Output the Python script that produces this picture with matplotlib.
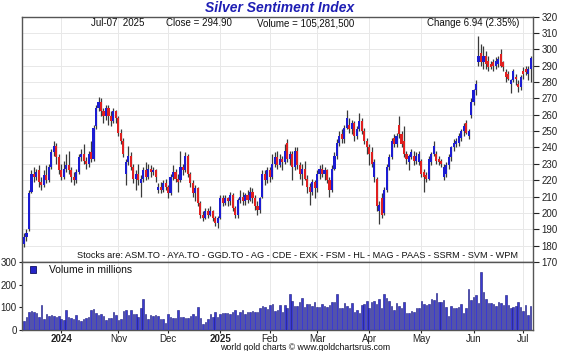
import matplotlib
matplotlib.use("Agg")
import matplotlib.pyplot as plt
from matplotlib.patches import Rectangle
import numpy as np

plt.rcParams['font.family'] = ['Liberation Sans', 'DejaVu Sans']

# Daily OHLC of the Silver Sentiment Index, Sep-10-2024 .. Jul-07-2025 (trading days)
opens = [181, 185, 190, 213, 224, 222, 226, 219, 217, 223,
         220, 228, 237, 241, 234, 226, 222, 227, 229, 226,
         222, 220, 225, 234, 236, 232, 230, 237, 233, 253,
         264, 268, 262, 259, 264, 259, 256, 262, 258, 249,
         244, 224, 231, 235, 228, 221, 224, 218, 221, 226,
         222, 227, 225, 226, 214, 216, 214, 218, 216, 212,
         222, 225, 221, 220, 228, 226, 235, 224, 218, 212,
         215, 206, 199, 197, 201, 199, 201, 197, 194, 197,
         209, 206, 209, 207, 211, 203, 199, 208, 210, 207,
         211, 208, 213, 209, 204, 202, 210, 224, 220, 226,
         222, 230, 234, 229, 233, 231, 243, 233, 236, 228,
         238, 229, 224, 227, 221, 216, 213, 219, 215, 224,
         227, 224, 226, 220, 214, 227, 235, 243, 248, 245,
         252, 254, 251, 255, 247, 251, 256, 250, 244, 240,
         237, 222, 221, 201, 209, 200, 214, 228, 234, 246,
         242, 254, 248, 244, 236, 231, 234, 235, 232, 231,
         232, 225, 223, 221, 231, 236, 236, 233, 232, 222,
         224, 229, 234, 240, 242, 243, 246, 250, 255, 247,
         260, 268, 275, 292, 298, 292, 296, 293, 291, 292,
         290, 291, 297, 292, 286, 285, 279, 281, 283, 279,
         277, 287, 288, 285, 288]
highs = [188, 190, 214, 226, 228, 227, 229, 222, 226, 229,
         230, 239, 244, 243, 236, 230, 232, 236, 238, 228,
         225, 227, 236, 239, 242, 234, 238, 244, 254, 266,
         271, 270, 264, 266, 266, 262, 264, 263, 259, 251,
         246, 233, 241, 237, 230, 226, 230, 223, 228, 231,
         230, 229, 228, 227, 218, 219, 220, 221, 217, 224,
         229, 227, 224, 238, 230, 237, 236, 225, 220, 217,
         216, 207, 201, 203, 203, 204, 202, 198, 198, 211,
         211, 211, 210, 213, 212, 204, 209, 214, 213, 212,
         214, 216, 215, 211, 207, 210, 226, 226, 228, 228,
         236, 237, 238, 236, 235, 242, 245, 238, 238, 240,
         240, 231, 230, 232, 223, 218, 221, 220, 226, 229,
         230, 228, 227, 222, 229, 237, 245, 250, 251, 254,
         263, 258, 257, 256, 253, 261, 258, 252, 246, 242,
         240, 233, 222, 207, 212, 216, 230, 236, 246, 248,
         249, 259, 250, 253, 238, 236, 239, 238, 237, 238,
         233, 227, 225, 235, 237, 244, 238, 235, 233, 230,
         231, 236, 241, 245, 246, 249, 251, 255, 257, 251,
         270, 276, 281, 308, 303, 302, 299, 296, 293, 294,
         295, 296, 300, 293, 288, 287, 282, 288, 285, 281,
         284, 289, 290, 290, 296]
lows = [179, 183, 189, 212, 219, 220, 216, 214, 216, 218,
        219, 227, 235, 230, 224, 220, 221, 225, 224, 219,
        217, 218, 224, 232, 230, 227, 228, 231, 232, 251,
        262, 259, 255, 257, 254, 253, 255, 255, 247, 242,
        234, 217, 229, 226, 218, 214, 217, 210, 219, 220,
        221, 222, 223, 219, 212, 212, 213, 214, 209, 211,
        220, 219, 213, 219, 223, 225, 222, 216, 210, 207,
        204, 197, 195, 196, 197, 198, 195, 192, 191, 196,
        204, 205, 204, 205, 201, 197, 197, 206, 205, 205,
        206, 207, 206, 202, 199, 200, 209, 217, 218, 219,
        221, 228, 227, 228, 226, 230, 231, 229, 220, 226,
        227, 221, 217, 220, 212, 205, 211, 209, 213, 221,
        222, 220, 218, 210, 213, 226, 233, 241, 243, 243,
        251, 249, 248, 244, 245, 250, 248, 242, 236, 229,
        228, 219, 201, 193, 197, 199, 213, 226, 233, 240,
        240, 246, 240, 234, 230, 226, 233, 229, 230, 229,
        222, 213, 219, 220, 229, 235, 230, 229, 228, 220,
        222, 227, 232, 238, 240, 241, 244, 247, 248, 245,
        258, 266, 272, 290, 290, 288, 288, 287, 288, 287,
        288, 289, 289, 287, 280, 281, 273, 280, 278, 274,
        275, 282, 284, 281, 280]
closes = [185, 188, 212, 224, 222, 225, 219, 217, 223, 220,
          228, 237, 241, 234, 226, 222, 227, 229, 226, 222,
          220, 225, 234, 236, 232, 230, 236, 233, 252, 264,
          268, 262, 259, 264, 259, 256, 262, 258, 249, 244,
          236, 231, 235, 228, 221, 224, 220, 221, 226, 222,
          227, 225, 226, 222, 216, 214, 218, 216, 212, 222,
          225, 221, 219, 228, 226, 235, 224, 218, 212, 215,
          206, 199, 197, 201, 199, 201, 197, 194, 197, 209,
          206, 209, 207, 211, 203, 199, 208, 210, 207, 211,
          208, 213, 209, 204, 202, 209, 224, 220, 226, 222,
          230, 234, 229, 233, 231, 238, 233, 236, 228, 238,
          229, 224, 227, 221, 216, 213, 219, 215, 224, 227,
          224, 226, 220, 214, 227, 235, 243, 247, 245, 252,
          258, 251, 255, 247, 251, 256, 250, 244, 240, 236,
          230, 231, 204, 205, 199, 214, 228, 234, 244, 242,
          247, 248, 242, 236, 233, 235, 237, 232, 235, 236,
          224, 222, 221, 233, 236, 241, 232, 231, 230, 228,
          229, 234, 240, 243, 244, 247, 250, 253, 249, 250,
          268, 275, 279, 296, 292, 296, 291, 289, 289, 290,
          293, 294, 290, 289, 283, 282, 281, 287, 282, 277,
          283, 285, 286, 288, 294.9]
# volume in millions
volume = [38, 57, 81, 86, 80, 77, 57, 110, 49, 72,
          63, 66, 62, 57, 62, 50, 46, 87, 57, 54,
          47, 65, 46, 40, 50, 53, 57, 90, 93, 75,
          68, 72, 60, 43, 51, 51, 78, 65, 46, 47,
          84, 90, 66, 87, 72, 72, 57, 95, 135, 69,
          50, 65, 60, 65, 63, 47, 49, 31, 72, 57,
          55, 53, 90, 57, 57, 51, 54, 62, 72, 62,
          102, 54, 28, 35, 47, 72, 57, 78, 57, 71,
          75, 77, 77, 69, 80, 90, 66, 78, 87, 69,
          81, 80, 83, 80, 81, 95, 105, 102, 92, 111,
          116, 86, 90,
          110, 80, 110, 95, 157, 129, 105, 105, 125, 140,
          102, 113, 113, 105, 122, 102, 102, 114, 105, 102,
          110, 122, 122, 157, 95, 99, 117, 107, 95, 117,
          80, 87, 77, 110, 113, 129, 99, 125, 129, 113,
          135, 99, 159, 143, 129, 107, 87, 117, 107, 99,
          125, 77, 77, 83, 80, 99, 99, 129, 114, 110,
          113, 135, 132, 162, 125, 122, 132, 102, 60, 105,
          95, 98, 102, 114, 77, 95, 181, 132, 147, 154,
          118, 256, 169, 137, 120, 120, 114, 105, 125, 117,
          110, 154, 110, 99, 102, 107, 125, 102, 83, 110,
          65, 105.3]

month_pos = [15, 38, 58, 79, 99, 118, 139, 160, 181, 201]
month_labels = ['2024', 'Nov', 'Dec', '2025', 'Feb', 'Mar', 'Apr', 'May', 'Jun', 'Jul']
stocks = ['ASM.TO', 'AYA.TO', 'GGD.TO', 'AG', 'CDE', 'EXK', 'FSM', 'HL',
          'MAG', 'PAAS', 'SSRM', 'SVM', 'WPM']

o = np.array(opens, dtype=float)
h = np.array(highs, dtype=float)
l = np.array(lows, dtype=float)
c = np.array(closes, dtype=float)
x = np.arange(len(c))

fig = plt.figure(figsize=(5.62, 3.51), dpi=100)
ax = fig.add_axes([0.0383, 0.2536, 0.9099, 0.6991])
axv = fig.add_axes([0.0383, 0.0598, 0.9099, 0.1938])

grid_c = '#e8e8e8'
edge_c = '#555555'

# price panel
ax.vlines(x, l, h, color='#3a3a3a', lw=0.9, zorder=3)
col = np.where(c >= o, '#1c1cd2', '#e02020')
ax.bar(x, c - o, bottom=o, width=0.85, color=col, lw=0, zorder=4)
ax.set_xlim(-1.0, 204.9)
ax.set_ylim(170, 320)
ax.set_yticks(np.arange(170, 321, 10))
ax.yaxis.tick_right()
ax.tick_params(axis='y', direction='out', length=4, width=0.8, pad=2,
               labelsize=7, colors='#222222')
ax.set_xticks(month_pos)
ax.tick_params(axis='x', length=0, labelbottom=False)
ax.grid(True, color=grid_c, lw=0.7, zorder=0)
for s in ax.spines.values():
    s.set_color(edge_c)
    s.set_linewidth(1.0)

# volume panel
axv.bar(x, volume, width=0.62, color='#3a3ad2', edgecolor='#1a1a7a', lw=0.4, zorder=3)
axv.set_xlim(-1.0, 204.9)
axv.set_ylim(0, 300)
axv.set_yticks([0, 100, 200, 300])
axv.tick_params(axis='y', direction='out', length=2.5, width=0.8, pad=1,
                labelsize=7, colors='#222222')
axv.set_xticks(month_pos)
axv.set_xticklabels(month_labels)
axv.tick_params(axis='x', direction='out', length=2, width=0.8, pad=1,
                labelsize=7, colors='#222222')
for t in axv.get_xticklabels():
    if t.get_text() in ('2024', '2025'):
        t.set_fontweight('bold')
axv.grid(True, axis='x', color=grid_c, lw=0.7, zorder=0)
for s in axv.spines.values():
    s.set_color(edge_c)
    s.set_linewidth(1.0)

# texts
fig.text(0.497, 0.976, 'Silver Sentiment Index', ha='center', va='center',
         fontsize=10, fontweight='bold', fontstyle='italic', color='#1e1eb4')
fig.text(0.162, 0.934, 'Jul-07  2025', fontsize=7, va='center', color='#111111')
fig.text(0.295, 0.934, 'Close = %.2f' % c[-1], fontsize=7, va='center', color='#111111')
fig.text(0.457, 0.934, 'Volume = 105,281,500', fontsize=7, va='center', color='#111111')
fig.text(0.760, 0.934, 'Change 6.94 (2.35%)', fontsize=7, va='center', color='#111111')
fig.text(0.530, 0.2735, 'Stocks are: ' + ' - '.join(stocks), ha='center', va='center',
         fontsize=6.6, color='#111111')
fig.patches.append(Rectangle((0.0535, 0.2215), 0.0107, 0.02, transform=fig.transFigure,
                             facecolor='#2525c8', edgecolor='#101060', lw=0.6))
fig.text(0.087, 0.232, 'Volume in millions', va='center', fontsize=7.5, color='#111111')
fig.text(0.542, 0.009, 'world gold charts \u00a9 www.goldchartsrus.com', ha='center',
         va='center', fontsize=6.3, color='#111111')

fig.savefig('out.png', dpi=100)
